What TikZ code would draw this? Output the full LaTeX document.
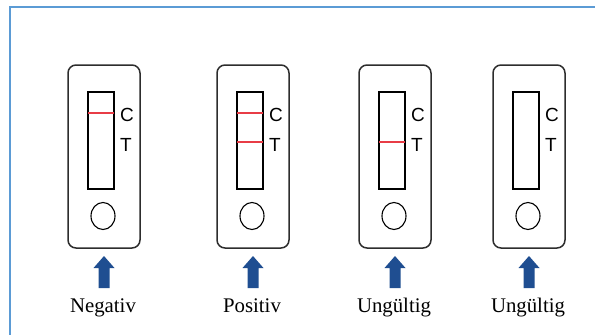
\documentclass[tikz,border=0pt]{standalone}
\usepackage{fontspec}
\setmainfont{Liberation Serif}
\newfontfamily\cardfont{Liberation Sans}
\definecolor{framebl}{RGB}{91,155,213}
\definecolor{bandred}{RGB}{232,60,70}
\definecolor{arrowbl}{RGB}{31,78,145}
\definecolor{cardgray}{RGB}{45,45,45}
\tikzset{
  cardbody/.style={draw=cardgray, line width=1.5pt, rounded corners=8pt},
  window/.style={draw=black, line width=1.2pt},
  band/.style={draw=bandred, line width=1.5pt},
  well/.style={draw=black, line width=1.1pt},
  cardlabel/.style={font=\cardfont\fontsize{19}{21}\selectfont, inner sep=0pt, anchor=west},
  resultlabel/.style={font=\fontsize{20.8}{24}\selectfont, inner sep=0pt, anchor=base},
  pointer/.style={fill=arrowbl, draw=none}
}
\begin{document}
\begin{tikzpicture}[x=1pt,y=-1pt]
\useasboundingbox (0,0) rectangle (595,335);
\clip (0,0) rectangle (595,335);
% outer frame (runs past the right and bottom edges)
\draw[framebl, line width=2pt] (10,7) rectangle (640,380);
% four test cassettes: index / left edge / control band / test band / result
\foreach \n/\x/\c/\t/\lab in {1/68/1/0/Negativ, 2/217/1/1/Positiv, 3/359/0/1/Ungültig, 4/493/0/0/Ungültig}{
  \draw[cardbody] (\x,65) rectangle ++(72,183);
  \draw[window] (\x+20,92) rectangle ++(26,97);
  \ifnum\c=1 \draw[band] (\x+20,113) -- ++(26,0); \fi
  \ifnum\t=1 \draw[band] (\x+20,142) -- ++(26,0); \fi
  \node[cardlabel] (c\n) at (\x+52,115) {C};
  \node[cardlabel] (t\n) at (\x+52,145) {T};
  \draw[well] (\x+35,216) ellipse [x radius=12, y radius=13.5];
  \fill[pointer] (\x+36,256) -- (\x+46.5,268) -- (\x+41.5,268) -- (\x+41.5,288)
     -- (\x+30.5,288) -- (\x+30.5,268) -- (\x+25.5,268) -- cycle;
  \node[resultlabel] (r\n) at (\x+35,312) {\lab};
}
\end{tikzpicture}
\end{document}
